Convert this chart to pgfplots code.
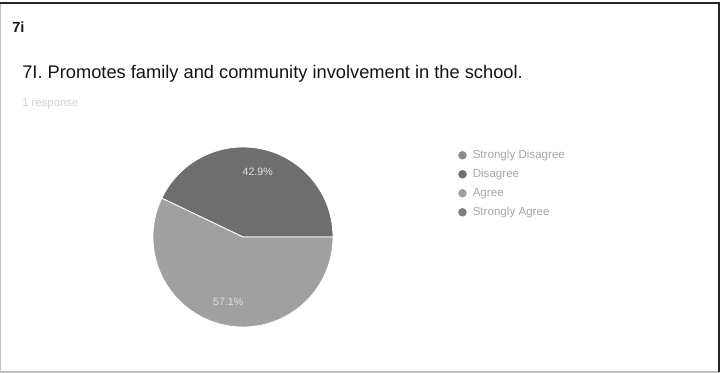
\documentclass[border=0pt]{standalone}
\usepackage{pgfplots}
\pgfplotsset{compat=1.18}
\usepackage{fontspec}
\setmainfont{Liberation Sans}
\definecolor{cSD}{HTML}{8C8C8C}
\definecolor{cD}{HTML}{6E6E6E}
\definecolor{cA}{HTML}{A0A0A0}
\definecolor{cSA}{HTML}{7E7E7E}
\definecolor{legtext}{HTML}{A6A6A6}
\begin{document}
\begin{tikzpicture}
\path[use as bounding box] (0,0) rectangle (541.5pt,-279.75pt);
\fill[white] (0,0) rectangle (541.5pt,-279.75pt);
\draw[black!25, line width=0.8pt] (0.6pt,-2.25pt) -- (0.6pt,-279pt) -- (539.5pt,-279pt);
\draw[black!85, line width=1.6pt] (0pt,-2.25pt) -- (539.5pt,-2.25pt) -- (539.5pt,-279.2pt);
\node[anchor=base west, inner sep=0pt, font=\bfseries\fontsize{11}{12}\selectfont, text=black!90] at (9pt,-24.75pt) {7i};
\node[anchor=base west, inner sep=0pt, font=\fontsize{13.7}{16}\selectfont, text=black!92] at (16.5pt,-59.25pt) {7I. Promotes family and community involvement in the school.};
\node[anchor=base west, inner sep=0pt, font=\fontsize{8.5}{10}\selectfont, text=black!18] at (16.5pt,-80.25pt) {1 response};
\begin{axis}[
  at={(182.25pt,-177.75pt)}, anchor=center,
  x=67.5pt, y=67.5pt,
  xmin=-1, xmax=1, ymin=-1, ymax=1,
  hide axis, clip=false,
  legend style={at={(1.672,1.023)}, anchor=north west, draw=none, fill=none,
    font=\fontsize{8.7}{10}\selectfont, text=legtext, row sep=0pt,
    nodes={inner sep=0pt, minimum height=14.25pt},
    /tikz/every odd column/.append style={column sep=4.5pt}},
  legend cell align=left,
  legend image code/.code={\fill[#1, draw=none] (3pt,0pt) circle (3.2pt);},
]
% values (percent): Strongly Disagree 0, Disagree 42.9, Agree 57.1, Strongly Agree 0
\fill[cD, draw=white, line width=0.6pt] (axis cs:0,0) -- (axis cs:1,0) arc[start angle=0, end angle={42.9*3.6}, radius=67.5pt] -- cycle;
\fill[cA, draw=white, line width=0.6pt] (axis cs:0,0) -- (axis cs:{cos(42.9*3.6)},{sin(42.9*3.6)}) arc[start angle={42.9*3.6}, end angle={(42.9+57.1)*3.6}, radius=67.5pt] -- cycle;
\node[font=\fontsize{8}{9}\selectfont, text=black!12] at (axis cs:{0.74*cos(42.9*1.8)},{0.74*sin(42.9*1.8)}) {42.9\%};
\node[font=\fontsize{8}{9}\selectfont, text=black!12] at (axis cs:{0.74*cos((42.9+57.1/2)*3.6)},{0.74*sin((42.9+57.1/2)*3.6)}) {57.1\%};
\addlegendimage{fill=cSD}
\addlegendentry{Strongly Disagree}
\addlegendimage{fill=cD}
\addlegendentry{Disagree}
\addlegendimage{fill=cA}
\addlegendentry{Agree}
\addlegendimage{fill=cSA}
\addlegendentry{Strongly Agree}
\end{axis}
\end{tikzpicture}
\end{document}
